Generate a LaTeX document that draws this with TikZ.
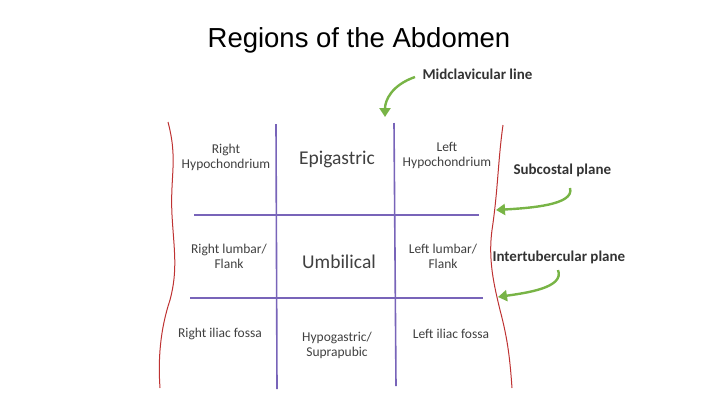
\documentclass[tikz,border=0pt]{standalone}
\usepackage{fontspec}
\setmainfont{Carlito}
\newfontfamily\titlefont{Liberation Sans}
\usetikzlibrary{arrows.meta}
\definecolor{gridc}{RGB}{120,100,185}
\definecolor{arc}{RGB}{120,180,70}
\definecolor{bodyc}{RGB}{190,50,50}
\begin{document}
\begin{tikzpicture}[x=1pt,y=-1pt,
  lbl/.style={align=center,font=\fontsize{13.5}{15}\selectfont,text=black!75},
  big/.style={align=center,font=\fontsize{19.5}{22}\selectfont,text=black!75},
  side/.style={font=\bfseries\fontsize{15}{17}\selectfont,text=black!80},
  body/.style={draw=bodyc,line width=1pt},
  grid/.style={draw=gridc,line width=1.6pt},
  gar/.style={draw=arc,line width=2.4pt,-{Triangle[length=9pt,width=11pt]}}]
\useasboundingbox (0,0) rectangle (720,405);
\node[font=\titlefont\fontsize{27.5}{30}\selectfont] (title) at (359,40) {Regions of the Abdomen};
% body outline
\draw[body] (168,122) .. controls (178,160) and (170,175) .. (172,215)
  .. controls (174,250) and (178,270) .. (170,300) .. controls (160,330) and (158,360) .. (160,388);
\draw[body] (503,125) .. controls (498,160) and (498,190) .. (492,230)
  .. controls (488,260) and (494,285) .. (500,310) .. controls (508,340) and (510,360) .. (512,388);
% grid
\coordinate (v1t) at (276,124); \coordinate (v1b) at (277,389);
\coordinate (v2t) at (394,123); \coordinate (v2b) at (396,386);
\coordinate (h1l) at (194,215); \coordinate (h1r) at (479,215);
\coordinate (h2l) at (190,298); \coordinate (h2r) at (483,298);
\draw[grid] (v1t) -- (v1b);
\draw[grid] (v2t) -- (v2b);
\draw[grid] (h1l) -- (h1r);
\draw[grid] (h2l) -- (h2r);
% region labels
\node[lbl] (rh) at (226,157) {Right\\Hypochondrium};
\node[big] (ep) at (337,159) {Epigastric};
\node[lbl] (lh) at (447,155) {Left\\Hypochondrium};
\node[lbl] (rl) at (229,256) {Right lumbar/\\Flank};
\node[big] (um) at (339,262) {Umbilical};
\node[lbl] (ll) at (443,256) {Left lumbar/\\Flank};
\node[lbl] (ri) at (220,334) {Right iliac fossa};
\node[lbl] (hy) at (337,345) {Hypogastric/\\Suprapubic};
\node[lbl] (li) at (451,334) {Left iliac fossa};
% side labels
\node[side,anchor=west] (mc) at (419,74) {Midclavicular line};
\node[side,anchor=west] (sc) at (510,170) {Subcostal plane};
\node[side,anchor=west] (it) at (489,257) {Intertubercular plane};
% arrows
\coordinate (a1s) at (415,77); \coordinate (a1e) at (385,117);
\coordinate (a2s) at (570,188); \coordinate (a2e) at (496,210);
\coordinate (a3s) at (558,270); \coordinate (a3e) at (498,297);
\draw[gar] (a1s) .. controls (392,85) and (385,100) .. (a1e);
\draw[gar] (a2s) .. controls (575,205) and (530,208) .. (a2e);
\draw[gar] (a3s) .. controls (565,288) and (525,293) .. (a3e);
\end{tikzpicture}
\end{document}
